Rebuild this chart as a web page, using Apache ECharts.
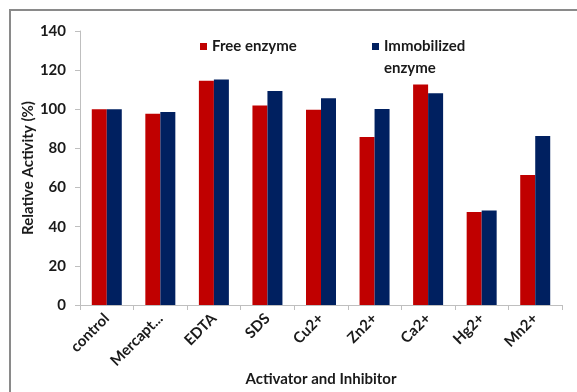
<!DOCTYPE html>
<html>
<head>
<meta charset="utf-8">
<script src="https://cdn.jsdelivr.net/npm/echarts@6/dist/echarts.min.js"></script>
<style>
  html, body { margin: 0; padding: 0; background: #ffffff; overflow: hidden; }
  #chart { width: 577px; height: 392px; }
</style>
</head>
<body>
<div id="chart"></div>
<script>
// Relative activity of free vs immobilized enzyme under activators / inhibitors
const categories = ['control', 'Mercaptoethanol', 'EDTA', 'SDS', 'Cu2+', 'Zn2+', 'Ca2+', 'Hg2+', 'Mn2+'];
const freeEnzyme = [100, 97.7, 114.6, 101.9, 99.8, 85.8, 112.7, 47.5, 66.4];
const immobilizedEnzyme = [100, 98.6, 115.2, 109.4, 105.7, 100.2, 108.2, 48.3, 86.3];
const yTicks = { min: 0, max: 140, interval: 20 };

const FONT = 'Lato, "DejaVu Sans", sans-serif';
const AXIS_GRAY = '#bfbfbf';
const TEXT = '#1a1a1a';

const chart = echarts.init(document.getElementById('chart'), null, { renderer: 'canvas' });

chart.setOption({
  backgroundColor: '#ffffff',
  animation: false,
  textStyle: { fontFamily: FONT },
  graphic: [{
    type: 'rect',
    shape: { x: 10, y: 10, width: 620, height: 420 },
    style: { fill: 'none', stroke: '#8a8a8a', lineWidth: 2 },
    silent: true,
    z: -1
  }],
  legend: [{
    data: ['Free enzyme'],
    left: 200,
    top: 37.5,
    padding: 0,
    itemWidth: 7,
    itemHeight: 7,
    icon: 'rect',
    textStyle: { fontFamily: FONT, fontWeight: 'bold', fontSize: 15, color: TEXT, lineHeight: 18 }
  }, {
    // empty first line keeps the marker level with "Immobilized"
    data: ['Immobilized enzyme'],
    left: 372,
    top: 13.5,
    padding: 0,
    itemWidth: 7,
    itemHeight: 7,
    icon: 'rect',
    formatter: () => ' \nImmobilized\nenzyme',
    textStyle: { fontFamily: FONT, fontWeight: 'bold', fontSize: 15, color: TEXT, lineHeight: 22 }
  }],
  grid: { left: 80, right: 15, top: 31, bottom: 82, containLabel: false },
  xAxis: {
    type: 'category',
    data: categories,
    name: 'Activator and Inhibitor',
    nameLocation: 'middle',
    nameGap: 67,
    nameMoveOverlap: false,
    nameTextStyle: { fontFamily: FONT, fontWeight: 'bold', fontSize: 15, color: TEXT },
    axisLine: { lineStyle: { color: AXIS_GRAY, width: 1 } },
    axisTick: { show: true, alignWithLabel: false, length: 5, lineStyle: { color: AXIS_GRAY } },
    axisLabel: {
      rotate: 45,
      interval: 0,
      margin: 11,
      fontFamily: FONT,
      fontWeight: 'bold',
      fontSize: 15,
      color: TEXT,
      width: 70,
      overflow: 'truncate',
      ellipsis: '...'
    }
  },
  yAxis: {
    type: 'value',
    min: yTicks.min,
    max: yTicks.max,
    interval: yTicks.interval,
    name: 'Relative Activity (%)',
    nameLocation: 'middle',
    nameGap: 44,
    nameMoveOverlap: false,
    nameTextStyle: { fontFamily: FONT, fontWeight: 'bold', fontSize: 15, color: TEXT },
    axisLine: { show: true, lineStyle: { color: AXIS_GRAY, width: 1 } },
    axisTick: { show: true, length: 5, lineStyle: { color: AXIS_GRAY } },
    splitLine: { show: false },
    axisLabel: {
      margin: 14,
      fontFamily: FONT,
      fontWeight: 'bold',
      fontSize: 15,
      color: TEXT
    }
  },
  series: [{
    name: 'Free enzyme',
    type: 'bar',
    data: freeEnzyme,
    barWidth: 15,
    barGap: '0%',
    itemStyle: { color: '#c00000' }
  }, {
    name: 'Immobilized enzyme',
    type: 'bar',
    data: immobilizedEnzyme,
    barWidth: 15,
    barGap: '0%',
    itemStyle: { color: '#002060' }
  }]
});
</script>
</body>
</html>
